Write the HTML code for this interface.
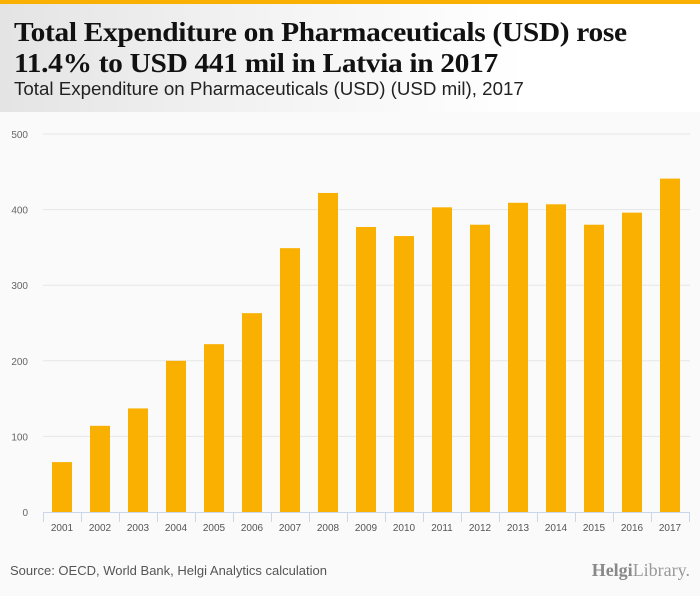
<!DOCTYPE html>
<html><head><meta charset="utf-8"><style>
body{margin:0;width:700px;height:596px;overflow:hidden;background:#fafafa;font-family:"Liberation Sans",sans-serif}
#hdr{position:absolute;left:0;top:0;width:700px;height:112px;background:linear-gradient(90deg,#e4e4e4,#f4f4f4 40%,#fff 75%)}
#bar{position:absolute;left:0;top:0;width:700px;height:4px;background:#f9b000}
h1{position:absolute;left:14px;top:17px;margin:0;font:bold 27px/31px "Liberation Serif",serif;color:#111;letter-spacing:-0.3px;transform:scaleX(1.09);transform-origin:left top;white-space:nowrap}
#sub{position:absolute;left:14px;top:79px;font-size:18px;color:#222;transform:scaleX(1.04);transform-origin:left top;white-space:nowrap}
#src{position:absolute;left:10px;top:563px;font-size:13px;color:#555}
#logo{position:absolute;right:10px;top:560px;font:18px "Liberation Serif",serif;color:#999}
</style></head><body>
<div id="hdr"></div>
<div id="bar"></div>
<h1>Total Expenditure on Pharmaceuticals (USD) rose<br>11.4% to USD 441 mil in Latvia in 2017</h1>
<div id="sub">Total Expenditure on Pharmaceuticals (USD) (USD mil), 2017</div>
<svg id="chart" width="700" height="596" style="position:absolute;left:0;top:0"></svg>
<div id="src">Source: OECD, World Bank, Helgi Analytics calculation</div>
<div id="logo"><b style="color:#888">Helgi</b>Library.</div>
<script>
const categories=["2001","2002","2003","2004","2005","2006","2007","2008","2009","2010","2011","2012","2013","2014","2015","2016","2017"];
const values=[66,114,137,200,222,263,349,422,377,365,403,380,409,407,380,396,441];
const yTicks=[0,100,200,300,400,500];
const svg=document.getElementById('chart');
const NS='http://www.w3.org/2000/svg';
const x0=43,step=38,yBase=512,yTop=134,yMax=500;
const y=v=>yBase-(v/yMax)*(yBase-yTop);
const xc=i=>x0+step*i+step/2;
function mk(t,a){const e=document.createElementNS(NS,t);for(const k in a)e.setAttribute(k,a[k]);svg.appendChild(e);return e;}
yTicks.forEach(t=>{
 if(t>0){const g=mk('line',{x1:43,x2:690,y1:y(t),y2:y(t),stroke:'#e6e6e6','stroke-width':1});
 
 }
 const l=mk('text',{x:28,y:y(t)+4,'text-anchor':'end','font-size':10,fill:'#666','font-family':'Liberation Sans,sans-serif'});
 l.textContent=t;
 
 
});
values.forEach((v,i)=>{
 const r=mk('rect',{x:xc(i)-10,y:y(v),width:20,height:yBase-y(v),fill:'#f9b000'});
 
 
 const l=mk('text',{x:xc(i),y:531,'text-anchor':'middle','font-size':10,fill:'#555','font-family':'Liberation Sans,sans-serif'});
 l.textContent=categories[i];
 
 
});
const ax=mk('line',{x1:x0,x2:x0+step*categories.length,y1:yBase+0.5,y2:yBase+0.5,stroke:'#ccd6eb'});


for(let i=0;i<=categories.length;i++){
 const t=mk('line',{x1:x0+step*i+0.5,x2:x0+step*i+0.5,y1:yBase,y2:yBase+10,stroke:'#ccd6eb'});
 
 
}
</script>
</body></html>
